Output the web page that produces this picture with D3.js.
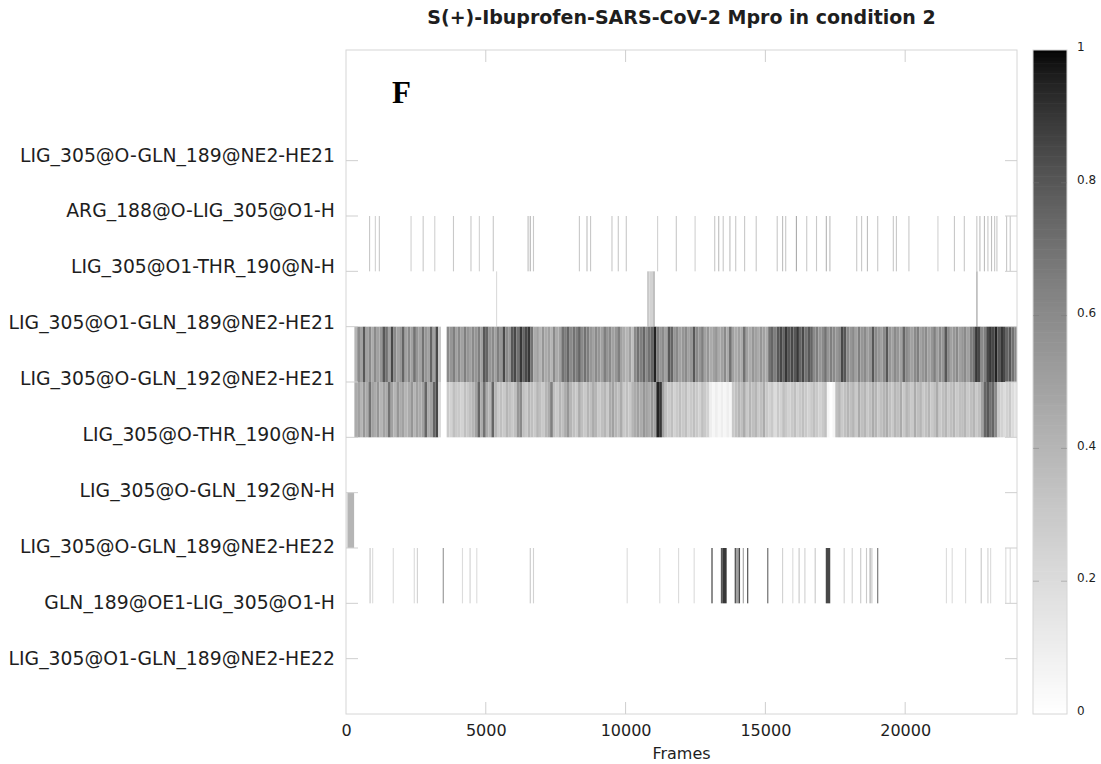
<!DOCTYPE html>
<html>
<head>
<meta charset="utf-8">
<script src="https://cdn.jsdelivr.net/npm/d3@7/dist/d3.min.js"></script>
<style>
  body { margin: 0; background: #fff; }
  text { font-family: "DejaVu Sans", sans-serif; }
</style>
</head>
<body>
<svg id="chart" width="1101" height="764"></svg>
<script>
// Hydrogen-bond time series, top to bottom
const rowLabels = [
  "LIG_305@O-GLN_189@NE2-HE21",
  "ARG_188@O-LIG_305@O1-H",
  "LIG_305@O1-THR_190@N-H",
  "LIG_305@O1-GLN_189@NE2-HE21",
  "LIG_305@O-GLN_192@NE2-HE21",
  "LIG_305@O-THR_190@N-H",
  "LIG_305@O-GLN_192@N-H",
  "LIG_305@O-GLN_189@NE2-HE22",
  "GLN_189@OE1-LIG_305@O1-H",
  "LIG_305@O1-GLN_189@NE2-HE22"
];

const frameTicks = [0, 5000, 10000, 15000, 20000];
const frameMax = 24000;
const colorTicks = [0, 0.2, 0.4, 0.6, 0.8, 1];

// Dense series: mean occupancy per 100-frame window, starting at frame 300
const windowStart = 300;
const windowSize = 100;

const occO1Gln189He21 = [
  .4,.6,.5,.8,.5,.6,.45,.6,.5,.55,.8,.7,.5,.85,.6,.5,.55,
  .75,.5,.6,.5,.7,.55,.5,.7,.55,.5,.75,.5,.85,.3,0,0,.6,.55,.65,.5,
  .6,.5,.65,.55,.5,.6,.55,.65,.5,.8,.75,.55,.6,.5,.65,.55,.85,.6,.55,.8,
  .85,.7,.9,.75,.85,.9,.7,.45,.5,.4,.55,.45,.5,.4,.6,.45,.5,.7,.65,.75,
  .6,.7,.65,.75,.6,.7,.65,.55,.5,.6,.55,.5,.65,.55,.6,.5,.55,.65,.5,.45,
  .4,.5,.35,.6,.7,.65,.75,.6,.7,.75,.95,.65,.55,.6,.5,.8,.75,.55,.6,.5,
  .55,.6,.5,.55,.8,.6,.55,.65,.5,.55,.45,.5,.55,.45,.5,.6,.45,.7,.5,.45,
  .5,.45,.7,.5,.45,.55,.5,.45,.55,.5,.45,.7,.75,.65,.8,.85,.75,.9,.8,.85,
  .8,.9,.75,.85,.7,.8,.75,.6,.65,.55,.6,.7,.55,.65,.6,.55,.6,.85,.8,.6,
  .55,.6,.5,.65,.55,.6,.5,.55,.8,.6,.55,.5,.6,.8,.55,.5,.6,.55,.5,.75,
  .6,.55,.5,.6,.65,.5,.55,.6,.5,.55,.65,.5,.6,.55,.8,.6,.5,.55,.6,.5,
  .55,.6,.5,.65,.7,.9,.85,.6,.65,.85,.9,.85,.95,.8,.9,.85,.75,.8,.7,.6
];

const occOGln192He21 = [
  .45,.5,.4,.55,.45,.7,.5,.45,.55,.4,.5,.45,.7,.5,.4,.55,.45,
  .5,.4,.45,.55,.4,.5,.45,.5,.75,.45,.5,.75,.85,.2,0,0,.3,.25,.35,.3,
  .3,.25,.35,.3,.35,.4,.5,.75,.45,.7,.45,.4,.75,.4,.3,.35,.3,.4,.35,.3,
  .35,.55,.6,.35,.3,.4,.35,.3,.4,.35,.3,.4,.45,.65,.35,.3,.4,.35,.45,.55,
  .4,.35,.3,.45,.35,.3,.4,.35,.45,.4,.3,.35,.4,.3,.45,.5,.4,.35,.45,.3,
  .35,.3,.4,.45,.5,.45,.55,.5,.45,.55,.5,.95,.9,.5,.35,.3,.35,.25,.3,.35,
  .3,.35,.25,.3,.35,.3,.25,.35,.3,.25,.1,.05,.1,.05,.1,.05,.1,.05,.3,.35,
  .4,.35,.45,.3,.4,.35,.4,.3,.35,.45,.3,.25,.3,.2,.3,.25,.35,.3,.25,.3,
  .35,.25,.3,.35,.3,.25,.3,.35,.3,.25,.3,.35,.05,0,.05,.35,.4,.3,.35,.4,
  .35,.4,.3,.45,.35,.4,.3,.35,.45,.4,.3,.35,.4,.45,.35,.3,.4,.35,.45,.3,
  .4,.35,.3,.45,.35,.4,.3,.35,.4,.3,.35,.45,.3,.35,.4,.3,.35,.4,.3,.35,
  .35,.4,.3,.35,.4,.3,.35,.5,.75,.8,.7,.75,.6,.3,.25,.2,.25,.3,.2,.15
];

// Sparse series: [startFrame, endFrame, occupancy]
const occArg188 = [
  [823,863,.3],[1030,1070,.25],[1173,1213,.3],[2307,2347,.25],[2740,2780,.3],
  [3155,3195,.25],[3824,3864,.3],[4450,4490,.3],[4750,4790,.25],[5248,5288,.3],
  [6493,6533,.35],[6571,6611,.4],[6686,6726,.3],[8328,8368,.3],[8600,8640,.35],
  [8728,8768,.3],[9493,9533,.3],[9719,9759,.3],[10005,10045,.3],[11125,11165,.25],
  [11794,11834,.3],[12466,12506,.25],[13168,13208,.3],[13311,13351,.35],[13472,13512,.3],
  [13712,13752,.35],[13919,13959,.3],[14237,14277,.3],[14652,14692,.3],[15403,15443,.3],
  [15596,15636,.35],[15707,15747,.3],[16090,16130,.45],[16459,16499,.3],[16809,16849,.3],
  [17160,17200,.4],[17288,17328,.35],[18247,18287,.3],[18422,18462,.3],[18630,18670,.35],
  [18998,19038,.3],[19556,19596,.3],[19667,19707,.3],[20114,20154,.3],[21152,21192,.25],
  [21742,21782,.3],[22096,22136,.3],[22543,22583,.3],[22654,22694,.35],[22815,22855,.35],
  [22940,22980,.3],[23069,23109,.35],[23180,23220,.3],[23262,23302,.3],[23608,23648,.3],
  [23737,23777,.3]
];

const occO1Thr190 = [
  [5366,5406,.2],[10770,10850,.3],[10850,10960,.25],[10960,11050,.35],[22543,22590,.45]
];

const occOGln192N = [
  [20,60,.25],[60,290,.4]
];

const occOGln189He22 = [
  [841,881,.3],[934,974,.2],[1671,1711,.2],[2422,2462,.2],[2533,2573,.25],
  [3459,3499,.55],[4146,4186,.2],[4418,4458,.25],[4658,4698,.2],[6571,6611,.3],
  [6686,6726,.25],[10037,10077,.2],[11203,11243,.2],[11876,11916,.2],[12433,12473,.2],
  [13071,13111,.9],[13407,13480,.8],[13480,13615,.9],[13901,13950,.8],[13950,14040,.5],
  [14040,14094,.85],[14190,14230,.5],[14348,14388,.85],[15066,15106,.75],[15596,15636,.25],
  [15961,16001,.2],[16186,16226,.3],[16394,16434,.25],[16762,16802,.3],[17160,17320,.85],
  [17799,17839,.25],[18086,18126,.25],[18390,18430,.3],[18597,18637,.3],[18726,18766,.45],
  [18790,18830,.3],[18998,19038,.7],[21455,21495,.2],[21662,21702,.2],[22142,22182,.2],
  [22700,22740,.3],[22940,22980,.25],[23037,23077,.2],[23580,23620,.2],[23737,23777,.2]
];

// Segments for each labelled row
const toSegments = arr => arr.map((v, i) => [windowStart + i * windowSize, windowStart + (i + 1) * windowSize, v]);
const seriesByRow = new Map([
  [1, occArg188],
  [2, occO1Thr190],
  [3, toSegments(occO1Gln189He21)],
  [4, toSegments(occOGln192He21)],
  [6, occOGln192N],
  [7, occOGln189He22]
]);

const svg = d3.select("#chart");
const plot = { left: 346, right: 1017, top: 50, bottom: 714 };

const x = d3.scaleLinear().domain([0, frameMax]).range([plot.left, plot.right]);
// row k spans [k, k+1]; two blank rows above the first label
const y = d3.scaleLinear().domain([-2, rowLabels.length]).range([plot.top, plot.bottom]);
const labelY = d3.scaleLinear().domain([0, rowLabels.length - 1]).range([155, 658]);

// gray palette with gamma 1.5, white at 0 and black at 1
const shade = d3.scaleSequential(t => {
  const g = Math.round(255 * Math.pow(1 - t, 1 / 1.5));
  return d3.rgb(g, g, g).toString();
}).domain([0, 1]);

// heat map cells
const cells = [];
seriesByRow.forEach((segs, row) => segs.forEach(s => cells.push({ row, s })));
svg.append("g").selectAll("rect").data(cells).join("rect")
  .attr("x", d => x(d.s[0]))
  .attr("width", d => Math.max(1, x(d.s[1]) - x(d.s[0])))
  .attr("y", d => y(d.row))
  .attr("height", d => y(d.row + 1) - y(d.row))
  .attr("fill", d => shade(d.s[2]));

// frame
const tickColor = "#cfcfcf";
svg.append("rect")
  .attr("x", plot.left).attr("y", plot.top)
  .attr("width", plot.right - plot.left).attr("height", plot.bottom - plot.top)
  .attr("fill", "none").attr("stroke", "#d6d6d6").attr("stroke-width", 1);

// tick marks on all four sides
const tickLen = 12;
const rowTicks = d3.range(rowLabels.length);
const marks = svg.append("g").attr("stroke", tickColor).attr("stroke-width", 1);
marks.selectAll(".yl").data(rowTicks).join("line")
  .attr("x1", plot.left).attr("x2", plot.left + tickLen)
  .attr("y1", d => y(d)).attr("y2", d => y(d));
marks.selectAll(".yr").data(rowTicks).join("line")
  .attr("x1", plot.right - tickLen).attr("x2", plot.right)
  .attr("y1", d => y(d)).attr("y2", d => y(d));
marks.selectAll(".xb").data(frameTicks.slice(1)).join("line")
  .attr("x1", d => x(d)).attr("x2", d => x(d))
  .attr("y1", plot.bottom).attr("y2", plot.bottom - tickLen);
marks.selectAll(".xt").data(frameTicks.slice(1)).join("line")
  .attr("x1", d => x(d)).attr("x2", d => x(d))
  .attr("y1", plot.top).attr("y2", plot.top + tickLen);

// row labels
svg.append("g").selectAll("text").data(rowLabels).join("text")
  .attr("x", 335)
  .attr("y", (d, i) => labelY(i))
  .attr("dy", "0.35em")
  .attr("text-anchor", "end")
  .attr("font-size", 18.8)
  .attr("fill", "#1e1e1e")
  .text(d => d);

// x axis labels
const xAxis = d3.axisBottom(x).tickValues(frameTicks).tickSize(0).tickPadding(0).tickFormat(d3.format("d"));
const gx = svg.append("g").attr("transform", `translate(0,${plot.bottom + 11})`).call(xAxis);
gx.select(".domain").remove();
gx.selectAll("text").attr("font-size", 16).attr("fill", "#1e1e1e")
  .attr("font-family", "DejaVu Sans, sans-serif");

svg.append("text")
  .attr("x", (plot.left + plot.right) / 2).attr("y", 759)
  .attr("text-anchor", "middle").attr("font-size", 16).attr("fill", "#1e1e1e")
  .text("Frames");

// title
svg.append("text")
  .attr("x", (plot.left + plot.right) / 2).attr("y", 24)
  .attr("text-anchor", "middle").attr("font-size", 19).attr("font-weight", "bold")
  .attr("fill", "#1e1e1e")
  .text("S(+)-Ibuprofen-SARS-CoV-2 Mpro in condition 2");

// panel letter
svg.append("text")
  .attr("x", 392).attr("y", 103)
  .style("font-family", "'Liberation Serif', serif")
  .attr("font-size", 31).attr("font-weight", "bold").attr("fill", "#000")
  .text("F");

// colour box
const cb = { left: 1033, right: 1067 };
const cbY = d3.scaleLinear().domain([0, 1]).range([plot.bottom, plot.top]);
const steps = d3.range(0, 1, 1 / 200);
svg.append("g").selectAll("rect").data(steps).join("rect")
  .attr("x", cb.left).attr("width", cb.right - cb.left)
  .attr("y", d => cbY(d + 1 / 200))
  .attr("height", d => cbY(d) - cbY(d + 1 / 200) + 0.6)
  .attr("fill", d => shade(d + 0.5 / 200));
svg.append("rect")
  .attr("x", cb.left).attr("y", plot.top)
  .attr("width", cb.right - cb.left).attr("height", plot.bottom - plot.top)
  .attr("fill", "none").attr("stroke", "#d6d6d6");

const cbMarks = svg.append("g").attr("stroke", "#7a7a7a").attr("stroke-opacity", 0.45);
cbMarks.selectAll(".l").data(colorTicks.slice(1, -1)).join("line")
  .attr("x1", cb.left).attr("x2", cb.left + 6)
  .attr("y1", d => cbY(d)).attr("y2", d => cbY(d));
cbMarks.selectAll(".r").data(colorTicks.slice(1, -1)).join("line")
  .attr("x1", cb.right - 6).attr("x2", cb.right)
  .attr("y1", d => cbY(d)).attr("y2", d => cbY(d));

svg.append("g").selectAll("text").data(colorTicks).join("text")
  .attr("x", 1077).attr("y", d => cbY(d) - 3)
  .attr("dy", "0.35em")
  .attr("font-size", 12).attr("fill", "#1e1e1e")
  .text(d => d3.format("~g")(d));
</script>
</body>
</html>
